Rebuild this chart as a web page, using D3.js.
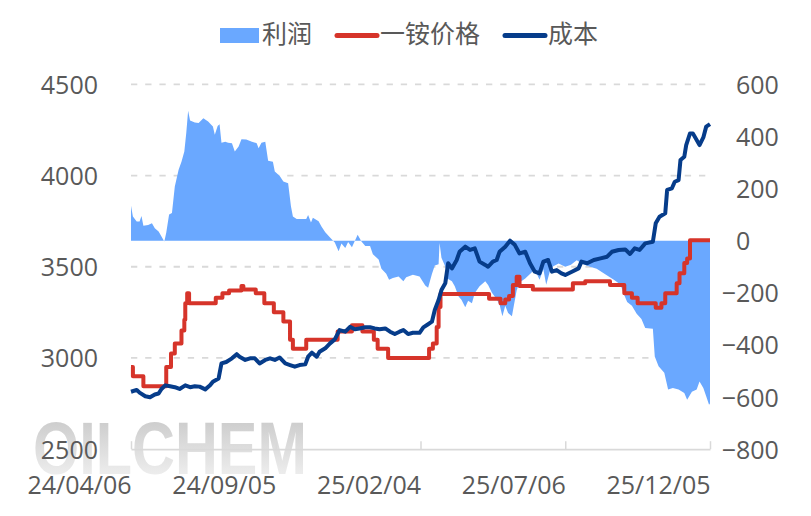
<!DOCTYPE html>
<html>
<head>
<meta charset="utf-8">
<script src="https://cdn.jsdelivr.net/npm/d3@7"></script>
<style>
  body { margin: 0; background: #fff; }
  text { font-family: "Open Sans", "Noto Sans CJK SC", sans-serif; fill: #595959; }
</style>
</head>
<body>
<script>
// ---- data ----
var tickDates = ["2024-04-06", "2024-09-05", "2025-02-04", "2025-07-06", "2025-12-05"];
var leftTicks = [2500, 3000, 3500, 4000, 4500];
var rightTicks = [-800, -600, -400, -200, 0, 200, 400, 600];
var seriesNames = ["利润", "一铵价格", "成本"];

// 利润 (right axis)
var profitDates = ["2024-04-06","2024-04-08","2024-04-12","2024-04-15","2024-04-17","2024-04-19","2024-04-24","2024-04-28","2024-05-01","2024-05-05",
  "2024-05-08","2024-05-11","2024-05-13","2024-05-16","2024-05-19","2024-05-22","2024-05-26","2024-05-29","2024-06-01","2024-06-03",
  "2024-06-05","2024-06-07","2024-06-12","2024-06-16","2024-06-21","2024-06-26","2024-07-01","2024-07-03","2024-07-06","2024-07-08",
  "2024-07-10","2024-07-14","2024-07-17","2024-07-21","2024-07-24","2024-07-28","2024-07-31","2024-08-05","2024-08-11","2024-08-16",
  "2024-08-18","2024-08-21","2024-08-25","2024-08-28","2024-09-02","2024-09-04","2024-09-09","2024-09-13","2024-09-18","2024-09-21",
  "2024-09-23","2024-09-27","2024-10-07","2024-10-09","2024-10-12","2024-10-14","2024-10-20","2024-10-23","2024-10-27","2024-11-01",
  "2024-11-06","2024-11-10","2024-11-13","2024-11-17","2024-11-20","2024-11-24","2024-11-30","2024-12-04","2024-12-08","2024-12-13",
  "2024-12-16","2024-12-22","2024-12-25","2024-12-30","2025-01-02","2025-01-06","2025-01-12","2025-01-17","2025-01-20","2025-01-27",
  "2025-02-03","2025-02-09","2025-02-12","2025-02-16","2025-02-19","2025-02-23","2025-02-24","2025-02-26","2025-03-02","2025-03-05",
  "2025-03-09","2025-03-12","2025-03-16","2025-03-19","2025-03-23","2025-03-26","2025-03-30","2025-04-02","2025-04-07","2025-04-13",
  "2025-04-16","2025-04-20","2025-04-25","2025-04-28","2025-05-01","2025-05-04","2025-05-07","2025-05-11","2025-05-13","2025-05-16",
  "2025-05-19","2025-05-25","2025-05-30","2025-06-04","2025-06-09","2025-06-13","2025-06-16","2025-06-20","2025-06-23","2025-06-29",
  "2025-07-06","2025-07-12","2025-07-18","2025-07-25","2025-08-01","2025-08-08","2025-08-19","2025-08-26","2025-09-02","2025-09-05",
  "2025-09-09","2025-09-14","2025-09-19","2025-09-24","2025-09-28","2025-10-06","2025-10-08","2025-10-12","2025-10-18","2025-10-22",
  "2025-10-27","2025-11-02","2025-11-08","2025-11-11","2025-11-16","2025-11-21","2025-11-24","2025-11-28","2025-12-01","2025-12-04",
  "2025-12-05"];
var profitValues = [134,93,74,74,95,57,60,67,48,35,
  16,-3,30,100,106,208,272,303,342,412,
  499,461,453,452,470,457,438,406,440,447,
  376,380,376,374,342,361,389,388,380,374,
  355,376,380,307,303,265,249,227,220,131,
  93,83,83,99,70,88,75,54,32,12,
  -7,-41,-11,-28,-5,-25,23,-3,-20,-20,
  -52,-72,-108,-127,-150,-143,-137,-156,-140,-131,
  -137,-172,-181,-128,-95,-90,-9,-65,-99,-147,
  -156,-175,-214,-227,-255,-230,-240,-201,-175,-156,
  -170,-200,-225,-245,-290,-250,-277,-290,-250,-190,
  -160,-145,-128,-110,-150,-110,-169,-115,-99,-88,
  -100,-92,-75,-90,-100,-108,-134,-150,-168,-200,
  -235,-250,-280,-300,-335,-338,-444,-482,-507,-571,
  -565,-571,-584,-610,-580,-571,-540,-565,-597,-629,
  -625];

// 一铵价格 (left axis, values change on these dates)
var priceDates = ["2024-04-06","2024-04-08","2024-04-19","2024-05-13","2024-05-18","2024-05-22","2024-05-29","2024-06-01","2024-06-02","2024-06-04",
  "2024-06-06","2024-07-04","2024-07-11","2024-07-18","2024-07-31","2024-08-02","2024-08-15","2024-08-24","2024-09-03","2024-09-13",
  "2024-09-20","2024-09-23","2024-10-07","2024-11-09","2024-11-24","2024-12-05","2024-12-17","2024-12-21","2025-01-01","2025-02-13",
  "2025-02-17","2025-02-21","2025-02-23","2025-02-25","2025-04-17","2025-04-29","2025-05-04","2025-05-08","2025-05-12","2025-05-16",
  "2025-05-19","2025-06-02","2025-07-14","2025-07-27","2025-08-22","2025-09-06","2025-09-14","2025-09-20","2025-10-09","2025-10-15",
  "2025-10-19","2025-10-31","2025-11-03","2025-11-08","2025-11-11","2025-11-14","2025-12-05"];
var priceValues = [2950,2900,2845,2950,3025,3080,3150,3210,3300,3355,
  3300,3330,3355,3370,3395,3375,3355,3300,3250,3200,
  3100,3050,3100,3145,3180,3145,3100,3050,3000,3050,
  3080,3170,3280,3350,3325,3300,3320,3340,3400,3445,
  3395,3375,3410,3420,3400,3355,3330,3300,3275,3300,
  3355,3410,3465,3520,3545,3645,3645];

// 成本 (left axis)
var costDates = ["2024-04-06","2024-04-12","2024-04-15","2024-04-21","2024-04-26","2024-05-01","2024-05-05","2024-05-08","2024-05-12","2024-05-17",
  "2024-05-22","2024-05-27","2024-06-02","2024-06-07","2024-06-12","2024-06-17","2024-06-23","2024-06-28","2024-07-01","2024-07-07",
  "2024-07-10","2024-07-15","2024-07-21","2024-07-26","2024-07-29","2024-08-04","2024-08-09","2024-08-14","2024-08-19","2024-08-25",
  "2024-08-30","2024-09-04","2024-09-09","2024-09-15","2024-09-20","2024-09-25","2024-09-30","2024-10-06","2024-10-09","2024-10-13",
  "2024-10-18","2024-10-21","2024-10-27","2024-11-01","2024-11-06","2024-11-11","2024-11-17","2024-11-22","2024-11-27","2024-12-02",
  "2024-12-08","2024-12-13","2024-12-18","2024-12-23","2024-12-29","2025-01-03","2025-01-08","2025-01-13","2025-01-17","2025-01-22",
  "2025-01-27","2025-02-03","2025-02-07","2025-02-12","2025-02-16","2025-02-19","2025-02-23","2025-02-26","2025-03-02","2025-03-05",
  "2025-03-09","2025-03-14","2025-03-17","2025-03-23","2025-03-28","2025-04-02","2025-04-07","2025-04-13","2025-04-16","2025-04-21",
  "2025-04-25","2025-04-28","2025-05-04","2025-05-09","2025-05-14","2025-05-19","2025-05-25","2025-05-30","2025-06-04","2025-06-09",
  "2025-06-13","2025-06-18","2025-06-22","2025-06-27","2025-07-02","2025-07-06","2025-07-13","2025-07-20","2025-07-23","2025-07-29",
  "2025-08-05","2025-08-12","2025-08-19","2025-08-24","2025-08-31","2025-09-07","2025-09-12","2025-09-17","2025-09-22","2025-09-28",
  "2025-10-06","2025-10-09","2025-10-13","2025-10-19","2025-10-21","2025-10-26","2025-10-29","2025-11-02","2025-11-04","2025-11-08",
  "2025-11-10","2025-11-14","2025-11-17","2025-11-24","2025-11-28","2025-12-01","2025-12-05"];
var costValues = [2815,2825,2810,2790,2785,2800,2805,2830,2850,2845,
  2840,2830,2850,2840,2845,2843,2828,2850,2870,2888,
  2970,2978,2998,3021,3007,2989,2998,2998,2970,2989,
  2998,2989,3003,2970,2961,2952,2961,2965,3007,3029,
  3007,3034,3053,3080,3102,3153,3144,3171,3157,3162,
  3168,3168,3162,3157,3162,3144,3131,3144,3153,3131,
  3138,3138,3168,3185,3199,3263,3318,3372,3409,3519,
  3491,3537,3582,3610,3592,3601,3528,3510,3500,3528,
  3537,3582,3610,3643,3620,3573,3582,3519,3473,3464,
  3528,3537,3473,3482,3464,3455,3473,3491,3528,3519,
  3537,3546,3555,3582,3592,3595,3570,3601,3592,3628,
  3637,3738,3774,3793,3921,3930,3966,3975,4085,4103,
  4167,4231,4231,4167,4209,4268,4282];

var profitColor = "#6aa8ff";
var priceColor = "#d6342a";
var costColor = "#063c8a";

// ---- layout ----
var W = 811, H = 516;
var margin = { top: 84.3, right: 101, bottom: 66.8, left: 131 };
var w = W - margin.left - margin.right;
var h = H - margin.top - margin.bottom;

var parse = d3.timeParse("%Y-%m-%d");
var fmt = d3.timeFormat("%y/%m/%d");

function zip(dates, values) {
  return dates.map(function (d, i) { return { date: parse(d), value: values[i] }; });
}
var profit = zip(profitDates, profitValues);
var price = zip(priceDates, priceValues);
var cost = zip(costDates, costValues);

var svg = d3.select("body").append("svg")
    .attr("width", W)
    .attr("height", H);

// watermark
var defs = svg.append("defs");
var grad = defs.append("linearGradient")
    .attr("id", "wm")
    .attr("x1", 0).attr("y1", 0).attr("x2", 0).attr("y2", 1);
grad.append("stop").attr("offset", "0%").attr("stop-color", "#c4c4c4");
grad.append("stop").attr("offset", "100%").attr("stop-color", "#f6f6f6");

svg.append("text")
    .attr("x", 33)
    .attr("y", 474)
    .attr("textLength", 274)
    .attr("lengthAdjust", "spacingAndGlyphs")
    .style("font-family", "'Liberation Sans', Arial, sans-serif")
    .style("font-weight", "bold")
    .style("font-size", "75px")
    .style("fill", "url(#wm)")
    .text("OILCHEM");

var g = svg.append("g")
    .attr("transform", "translate(" + margin.left + "," + margin.top + ")");

var xScale = d3.scaleTime()
    .domain([parse(tickDates[0]), parse(tickDates[tickDates.length - 1])])
    .range([0, w]);

var yLeft = d3.scaleLinear()
    .domain([2500, 4500])
    .range([h, 0]);

var yRight = d3.scaleLinear()
    .domain([-800, 600])
    .range([h, 0]);

// gridlines
g.selectAll(".grid")
    .data(leftTicks.slice(1))
    .enter()
    .append("line")
    .attr("class", "grid")
    .attr("x1", 0)
    .attr("x2", w)
    .attr("y1", function (d) { return yLeft(d); })
    .attr("y2", function (d) { return yLeft(d); })
    .attr("stroke", "#d9d9d9")
    .attr("stroke-width", 1.8)
    .attr("stroke-dasharray", "6.3,7.9");

// profit area
var area = d3.area()
    .x(function (d) { return xScale(d.date); })
    .y0(yRight(0))
    .y1(function (d) { return yRight(d.value); });

g.append("path")
    .datum(profit)
    .attr("d", area)
    .attr("fill", profitColor);

// x axis
var xAxis = d3.axisBottom(xScale)
    .tickValues(tickDates.map(parse))
    .tickFormat(fmt)
    .tickSizeInner(-8)
    .tickSizeOuter(0);

var xg = g.append("g")
    .attr("class", "x-axis")
    .attr("transform", "translate(0," + h + ")")
    .call(xAxis);
xg.select(".domain").attr("stroke", "#d9d9d9").attr("stroke-width", 1.8);
xg.selectAll(".tick line").attr("stroke", "#d9d9d9").attr("stroke-width", 1.5);
xg.selectAll(".tick text")
    .attr("y", 45)
    .attr("dy", null)
    .attr("text-anchor", "end")
    .style("font-size", "25px")
    .style("fill", "#595959");

// lines
var priceLine = d3.line()
    .x(function (d) { return xScale(d.date); })
    .y(function (d) { return yLeft(d.value); })
    .curve(d3.curveStepAfter);

var costLine = d3.line()
    .x(function (d) { return xScale(d.date); })
    .y(function (d) { return yLeft(d.value); });

g.append("path")
    .datum(price)
    .attr("d", priceLine)
    .attr("fill", "none")
    .attr("stroke", priceColor)
    .attr("stroke-width", 4)
    .attr("stroke-linejoin", "round");

g.append("path")
    .datum(cost)
    .attr("d", costLine)
    .attr("fill", "none")
    .attr("stroke", costColor)
    .attr("stroke-width", 4)
    .attr("stroke-linejoin", "round");

// y axes
var yAxisLeft = d3.axisLeft(yLeft)
    .tickValues(leftTicks)
    .tickSize(0)
    .tickPadding(33)
    .tickFormat(d3.format("d"));
var ylg = g.append("g").attr("class", "y-axis").call(yAxisLeft);
ylg.select(".domain").remove();
ylg.selectAll("text")
    .attr("dy", "0.36em")
    .style("font-size", "25px")
    .style("fill", "#595959");

var yAxisRight = d3.axisRight(yRight)
    .tickValues(rightTicks)
    .tickSize(0)
    .tickPadding(26)
    .tickFormat(d3.format("d"));
var yrg = g.append("g")
    .attr("class", "y-axis-right")
    .attr("transform", "translate(" + w + ",0)")
    .call(yAxisRight);
yrg.select(".domain").remove();
yrg.selectAll("text")
    .attr("dy", "0.36em")
    .style("font-size", "25px")
    .style("fill", "#595959");
// negative labels: minus sign hangs to the left of the digits
yrg.selectAll(".tick text").each(function (d) {
  if (d < 0) {
    var t = d3.select(this);
    var full = this.getComputedTextLength();
    t.text(String(Math.abs(d)));
    var digits = this.getComputedTextLength();
    t.text(d3.format("d")(d));
    t.attr("dx", -(full - digits));
  }
});

// legend
var legend = svg.append("g").attr("class", "legend");
legend.append("rect")
    .attr("x", 220).attr("y", 28)
    .attr("width", 39).attr("height", 15)
    .attr("fill", profitColor);
legend.append("text").attr("x", 262).attr("y", 43).style("font-size", "25px").text(seriesNames[0]);

legend.append("line")
    .attr("x1", 337).attr("x2", 377).attr("y1", 35.5).attr("y2", 35.5)
    .attr("stroke", priceColor).attr("stroke-width", 5).attr("stroke-linecap", "round");
legend.append("text").attr("x", 380).attr("y", 43).style("font-size", "25px").text(seriesNames[1]);

legend.append("line")
    .attr("x1", 505).attr("x2", 545).attr("y1", 35.5).attr("y2", 35.5)
    .attr("stroke", costColor).attr("stroke-width", 5).attr("stroke-linecap", "round");
legend.append("text").attr("x", 548).attr("y", 43).style("font-size", "25px").text(seriesNames[2]);
</script>
</body>
</html>
